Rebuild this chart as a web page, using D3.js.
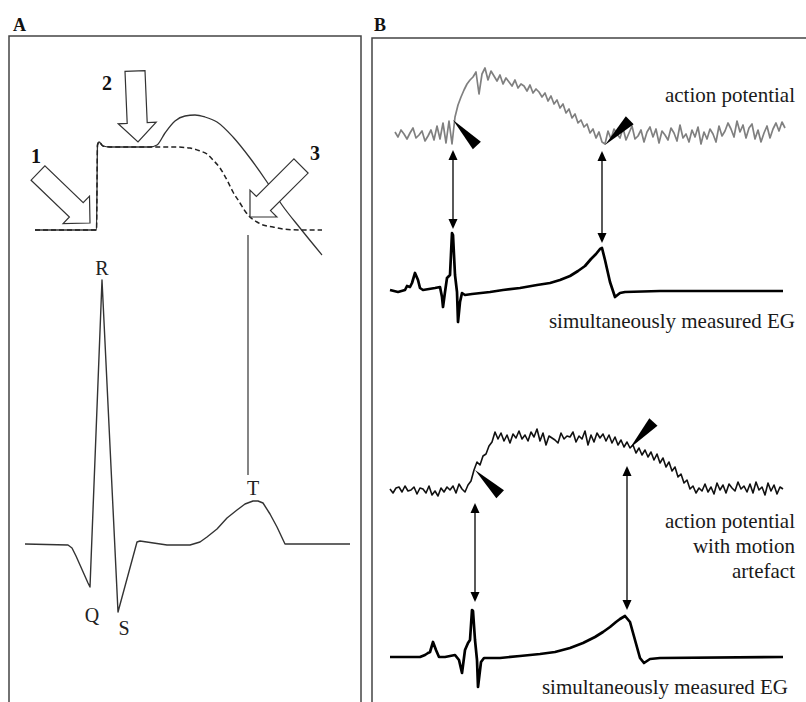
<!DOCTYPE html>
<html><head><meta charset="utf-8">
<script src="https://cdn.jsdelivr.net/npm/d3@7"></script>
<style>html,body{margin:0;padding:0;background:#fff}svg{display:block}</style>
</head><body><svg id="c" width="806" height="702"></svg>
<script>
// ---------------- DATA ----------------
const panelLabels = ["A", "B"];

// Panel A: schematic action potential (time ms, potential units)
const apSolid = [[10,0],[71.5,0],[72.5,85],[74,88],[78,84],[85,83],[125,83],[132,85],[140,97],[150,109],[160,114],[170,115],[180,113],[192,108],[208,93],[225,72],[242,48],[257,25],[275,2],[297,-25]];
const apDashed = [[10,0],[71.5,0],[72.5,85],[74,88],[78,84],[85,83],[132,83],[150,83],[165,82],[175,79],[182,76],[188,70],[195,62],[202,50],[208,38],[215,27],[220,19],[225,13],[232,8],[238,5],[248,3],[258,1],[275,0],[297,0]];
// Panel A: schematic ECG
const ecg = [[0,0],[43,-1],[47,-4],[51,-12],[55,-21],[63,-39],[65,-43],[77,264],[93,-68],[112,2],[115,3],[142,-1],[165,-1],[175,2],[182,7],[192,15],[202,26],[212,34],[220,40],[228,43],[233,43],[238,41],[245,30],[252,17],[260,0],[325,0]];
const ecgWaveLabels = ["R","Q","S","T"];
const ecgWaveT = [77, 67, 99, 228];
const ecgWaveV = [269, -78, -91, 49];
const phaseLabels = ["1","2","3"];
const phaseArrowTail = [[13,57],[110,159],[276,64]];
const phaseArrowTip = [[65,7],[113,88],[225,13]];
const phaseLabelPos = [[11,67],[82,140],[290,70]];
const tLineT = 223, tLineV = [69, 309];

// Panel B: recorded traces (sampling interval 3 ms)
const sampleStep = 3;
const apCleanStart = 5;
const apClean = [3,-2,5,1,-4,2,7,-3,0,4,-6,-1,5,-5,9,-4,12,-8,14,-9,
 18,30,38,45,51,55,58,63,41,61,67,55,64,59,54,60,51,57,53,49,
 55,47,51,49,44,50,42,46,43,38,42,34,39,31,35,27,31,22,26,17,
 21,12,15,8,11,2,6,-3,3,-7,
 -9,4,-4,6,1,-3,7,-5,2,9,
 -4,-1,5,-7,3,8,-2,6,-8,4,
 0,-5,7,2,-6,10,-3,1,-7,5,
 -2,8,-9,3,-4,6,1,-7,9,-1,
 4,12,6,-2,14,3,10,-3,7,11,
 -4,5,-7,2,9,-3,6,12,4,13,7];
const apMotionStart = 0;
const apMotion = [1,-3,2,3,-2,4,-1,0,3,-4,2,1,-3,4,-5,-1,-6,2,-2,3,
 0,4,-3,6,1,-2,5,9,20,28,
 25,34,36,44,48,58,51,57,49,55,
 47,56,52,59,51,55,49,58,53,61,
 49,57,45,54,52,50,47,57,51,54,
 53,58,48,54,51,59,45,55,48,57,
 52,56,49,55,47,53,45,50,43,48,
 42,45,37,42,35,40,33,38,30,36,
 27,32,23,28,19,23,13,16,7,10,
 1,4,-3,2,-1,6,-2,3,-4,7,
 0,5,-3,6,2,-1,8,1,4,-2,
 6,-3,8,0,3,-5,7,-1,5,-4,3,1];
const egTop = [[0,2],[8,0],[15,2],[17,6],[20,5],[22,9],[25,19],[28,12],[30,4],[33,2],[45,4],[50,5],[52,-5],[53,-15],[55,0],[57,14],[60,17],[62,59],[63,57],[65,17],[67,0],[68,-30],[70,-10],[72,-1],[75,-3],[82,-2],[100,0],[113,2],[130,4],[147,7],[160,9],[170,12],[180,16],[188,21],[195,26],[201,33],[206,38],[210,43],[212,44],[215,32],[220,10],[225,-5],[230,-1],[235,0],[270,1],[393,1]];
const egBottom = [[0,0],[30,0],[35,2],[38,4],[40,5],[43,15],[46,7],[49,0],[55,0],[65,2],[69,-3],[72,-16],[75,7],[78,14],[80,17],[82,47],[83,46],[85,17],[87,-3],[88,-30],[91,-5],[94,-1],[110,-1],[130,1],[150,3],[165,5],[180,9],[193,14],[205,20],[213,25],[220,30],[226,35],[230,38],[235,41],[240,35],[245,17],[250,-1],[254,-6],[260,-2],[270,-1],[393,0]];
// pointer wedges: [trace, t, v, angle(deg)]
const wedges = [["clean",63,15,47],["clean",215,-10,-45],["motion",85,20,44],["motion",240,42,-48]];
// double arrows linking AP to EG: [t, apV, egV, panel]
const links = [[63,-15,63,"top"],[212,-16,49,"top"],[85,-13,55,"bottom"],[237,24,47,"bottom"]];
const textTop = ["action potential"];
const textEG = ["simultaneously measured EG"];
const textMotion = ["action potential","with motion","artefact"];

// ---------------- DRAW ----------------
const svg = d3.select("#c");
const serif = "'Liberation Serif','Times New Roman',serif";
const ink = "#333";

// frames
svg.append("rect").attr("x",9).attr("y",36).attr("width",352).attr("height",720)
  .attr("fill","none").attr("stroke","#444").attr("stroke-width",1.5);
svg.append("rect").attr("x",372).attr("y",38).attr("width",460).attr("height",720)
  .attr("fill","none").attr("stroke","#444").attr("stroke-width",1.5);
svg.selectAll("text.panel").data(panelLabels).enter().append("text")
  .attr("x",(d,i)=>i?374:13).attr("y",31).text(d=>d)
  .attr("font-family",serif).attr("font-weight","bold").attr("font-size",18).attr("fill","#111");

// ---- Panel A scales
const xA = d3.scaleLinear().domain([0,325]).range([25,350]);
const yAP = d3.scaleLinear().domain([0,100]).range([230,130]);
const yECG = d3.scaleLinear().domain([0,300]).range([544,244]);
const lineAP = d3.line().x(d=>xA(d[0])).y(d=>yAP(d[1])).curve(d3.curveMonotoneX);
const lineECG = d3.line().x(d=>xA(d[0])).y(d=>yECG(d[1]));

svg.append("path").attr("d",lineAP(apSolid)).attr("fill","none").attr("stroke",ink).attr("stroke-width",1.3);
svg.append("path").attr("d",lineAP(apDashed)).attr("fill","none").attr("stroke","#222").attr("stroke-width",1.5).attr("stroke-dasharray","5,3");

function blockArrow(p0,p1,sw,hw,hl){
  const dx=p1[0]-p0[0], dy=p1[1]-p0[1], L=Math.hypot(dx,dy);
  const ux=dx/L, uy=dy/L, nx=-uy, ny=ux;
  const nk=[p1[0]-ux*hl, p1[1]-uy*hl];
  const pts=[[p0[0]+nx*sw/2,p0[1]+ny*sw/2],[nk[0]+nx*sw/2,nk[1]+ny*sw/2],[nk[0]+nx*hw/2,nk[1]+ny*hw/2],p1,
    [nk[0]-nx*hw/2,nk[1]-ny*hw/2],[nk[0]-nx*sw/2,nk[1]-ny*sw/2],[p0[0]-nx*sw/2,p0[1]-ny*sw/2]];
  return "M"+pts.map(p=>p[0].toFixed(1)+","+p[1].toFixed(1)).join("L")+"Z";
}
phaseArrowTail.forEach((tl,i)=>{
  const p0=[xA(tl[0]),yAP(tl[1])], p1=[xA(phaseArrowTip[i][0]),yAP(phaseArrowTip[i][1])];
  svg.append("path").attr("d",blockArrow(p0,p1,20,38,19)).attr("fill","#fff").attr("stroke",ink).attr("stroke-width",1.2).attr("stroke-linejoin","miter");
});
svg.selectAll("text.phase").data(phaseLabels).enter().append("text")
  .attr("x",(d,i)=>xA(phaseLabelPos[i][0])).attr("y",(d,i)=>yAP(phaseLabelPos[i][1]))
  .attr("text-anchor","middle").attr("font-family",serif).attr("font-weight","bold").attr("font-size",20).attr("fill","#111").text(d=>d);

svg.append("path").attr("d",lineECG(ecg)).attr("fill","none").attr("stroke",ink).attr("stroke-width",1.4).attr("stroke-linejoin","round");
svg.append("line").attr("x1",xA(tLineT)).attr("x2",xA(tLineT)).attr("y1",yECG(tLineV[0])).attr("y2",yECG(tLineV[1]))
  .attr("stroke",ink).attr("stroke-width",1.2);
svg.selectAll("text.wave").data(ecgWaveLabels).enter().append("text")
  .attr("x",(d,i)=>xA(ecgWaveT[i])).attr("y",(d,i)=>yECG(ecgWaveV[i]))
  .attr("text-anchor","middle").attr("font-family",serif).attr("font-size",20).attr("fill","#222").text(d=>d);

// ---- Panel B scales
const xB = d3.scaleLinear().domain([0,400]).range([390,790]);
const yAP1 = d3.scaleLinear().domain([0,80]).range([135,55]);
const yEG1 = d3.scaleLinear().domain([0,60]).range([292,232]);
const yAP2 = d3.scaleLinear().domain([0,60]).range([490,430]);
const yEG2 = d3.scaleLinear().domain([0,50]).range([657,607]);

const apLine = (ys,start)=> d3.line().x((d,i)=>xB(start+i*sampleStep)).y(d=>ys(d));
svg.append("path").attr("d",apLine(yAP1,apCleanStart)(apClean)).attr("fill","none").attr("stroke","#808080").attr("stroke-width",1.7).attr("stroke-linejoin","round");
svg.append("path").attr("d",apLine(yAP2,apMotionStart)(apMotion)).attr("fill","none").attr("stroke","#111").attr("stroke-width",1.6).attr("stroke-linejoin","round");

const egLine = ys => d3.line().x(d=>xB(d[0])).y(d=>ys(d[1]));
svg.append("path").attr("d",egLine(yEG1)(egTop)).attr("fill","none").attr("stroke","#000").attr("stroke-width",2.7).attr("stroke-linejoin","round");
svg.append("path").attr("d",egLine(yEG2)(egBottom)).attr("fill","none").attr("stroke","#000").attr("stroke-width",2.7).attr("stroke-linejoin","round");

// wedges
wedges.forEach(w=>{
  const ys = w[0]==="clean"?yAP1:yAP2;
  const tip=[xB(w[1]),ys(w[2])];
  const a=w[3]*Math.PI/180, len=35, half=5.5;
  const ux=Math.cos(a), uy=Math.sin(a), nx=-uy, ny=ux;
  const e=[tip[0]+ux*len, tip[1]+uy*len];
  const pts=[tip,[e[0]+nx*half,e[1]+ny*half],[e[0]-nx*half,e[1]-ny*half]];
  svg.append("path").attr("d","M"+pts.map(p=>p.join(",")).join("L")+"Z").attr("fill","#000");
});

// double arrows
links.forEach(l=>{
  const x=xB(l[0]);
  const y1=(l[3]==="top"?yAP1:yAP2)(l[1]);
  const y2=(l[3]==="top"?yEG1:yEG2)(l[2]);
  svg.append("line").attr("x1",x).attr("x2",x).attr("y1",y1+6).attr("y2",y2-6).attr("stroke","#000").attr("stroke-width",1.3);
  svg.append("path").attr("d",`M${x},${y1}L${x-4.5},${y1+10}L${x+4.5},${y1+10}Z`).attr("fill","#000");
  svg.append("path").attr("d",`M${x},${y2}L${x-4.5},${y2-10}L${x+4.5},${y2-10}Z`).attr("fill","#000");
});

// labels panel B
const lab = (txt,x,y)=>svg.append("text").attr("x",x).attr("y",y).attr("text-anchor","end")
  .attr("font-family",serif).attr("font-size",21).attr("fill","#1a1a1a").text(txt);
lab(textTop[0],795,102);
lab(textEG[0],795,328);
textMotion.forEach((t,i)=>lab(t,795,528+i*25));
lab(textEG[0],788,694);
</script></body></html>
